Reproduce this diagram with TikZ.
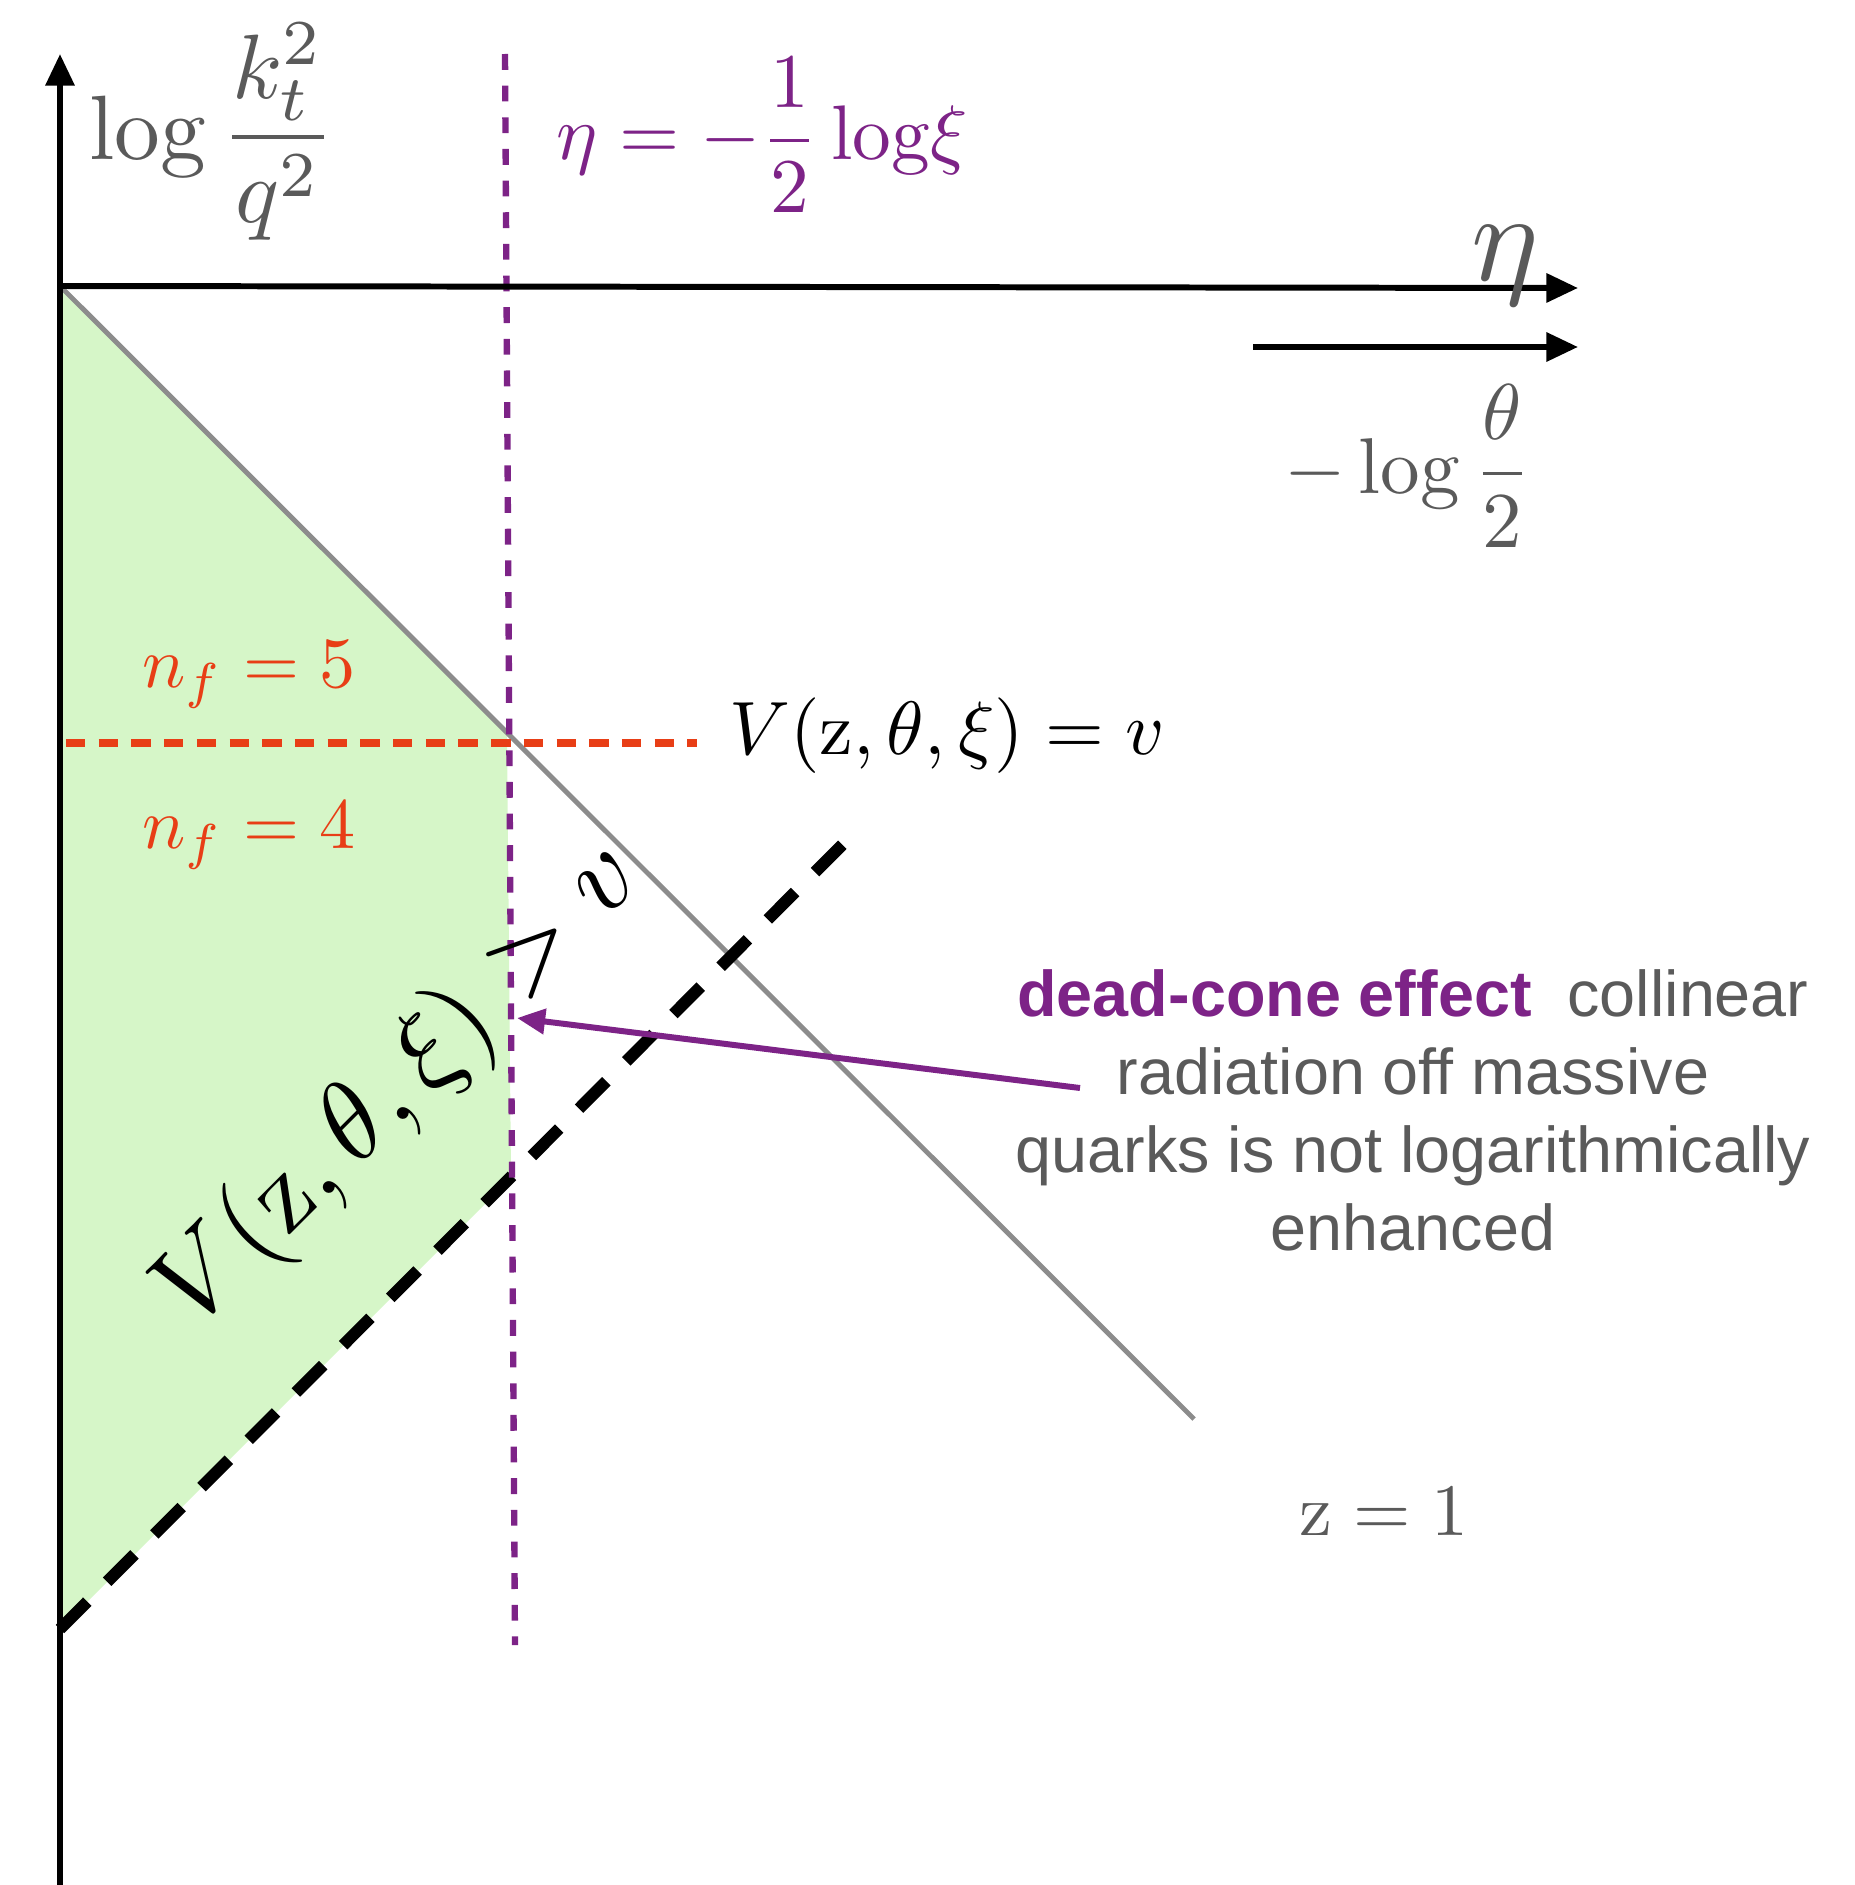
\documentclass[tikz,border=0pt]{standalone}
\usepackage{fontspec}
\setsansfont{Liberation Sans}
\usetikzlibrary{arrows.meta}
\definecolor{txtgray}{RGB}{90,90,90}
\definecolor{lngray}{RGB}{140,140,140}
\definecolor{ppl}{RGB}{125,35,135}
\definecolor{redo}{RGB}{232,62,22}
\definecolor{grn}{RGB}{214,246,200}
\tikzset{
  axisarrow/.style={line width=1.7pt, -{Triangle[length=9pt,width=8pt]}},
  zline/.style={draw=lngray, line width=1.4pt},
  cutline/.style={draw=black, line width=3.4pt, dash pattern=on 11pt off 8pt},
  etaline/.style={draw=ppl, line width=1.8pt, dash pattern=on 4.5pt off 4.5pt},
  nfline/.style={draw=redo, line width=2.2pt, dash pattern=on 5.5pt off 3.8pt},
  lbl/.style={inner sep=0pt, outer sep=0pt},
}
\begin{document}
\begin{tikzpicture}[x=0.01cm, y=-0.01cm]
\useasboundingbox (0,0) rectangle (1854,1885);
% key points
\coordinate (O) at (60,286);
\coordinate (Ytop) at (60,54);
\coordinate (Ybot) at (60,1885);
\coordinate (Xend) at (1578,288);
\coordinate (X2s) at (1253,347);
\coordinate (X2e) at (1578,347);
\coordinate (Zend) at (1194,1419);
\coordinate (Cs) at (60,1629);
\coordinate (Ce) at (851,836);
\coordinate (Ptop) at (505,54);
\coordinate (Pbot) at (515,1645);
\coordinate (GP) at (507,733);
\coordinate (DP) at (511,1178);
\coordinate (Rs) at (66,743);
\coordinate (Re) at (697,743);
\coordinate (As) at (1080,1088);
\coordinate (Ae) at (517,1018);
% green region
\fill[grn] (O) -- (GP) -- (DP) -- (Cs) -- cycle;
% lines
\draw[zline] (O) -- (Zend);
\draw[cutline] (Cs) -- (Ce);
\draw[nfline] (Rs) -- (Re);
\draw[etaline] (Ptop) -- (Pbot);
\draw[axisarrow] (Ybot) -- (Ytop);
\draw[axisarrow] (O) -- (Xend);
\draw[axisarrow] (X2s) -- (X2e);
% labels
\node[lbl, text=txtgray, scale=2.6] (ylab) at (212,132) {$\displaystyle \log\frac{k_t^2}{q^2}$};
\node[lbl, text=ppl, scale=2.2] (etalab) at (762,135) {$\displaystyle \eta = -\frac{1}{2}\log\!\xi$};
\node[lbl, text=txtgray, scale=3.6] (etaax) at (1505,266) {$\eta$};
\node[lbl, text=txtgray, scale=2.25] (thlab) at (1408,466) {$\displaystyle {-}\log\frac{\theta}{2}$};
\node[lbl, text=redo, scale=2.05] (nf5) at (249,675) {$n_f = 5$};
\node[lbl, text=redo, scale=2.05] (nf4) at (249,836) {$n_f = 4$};
\node[lbl, text=black, scale=2.15] (vlab) at (947,736) {$V(\mathrm{z},\theta,\xi) = v$};
\node[lbl, text=txtgray, scale=2.1] (zlab) at (1384,1512) {$\mathrm{z} = 1$};
\node[lbl, text=black, rotate=45, scale=3.15] (vgt) at (400,1086) {$V(\mathrm{z},\theta,\xi) > v$};
\node[lbl, text=txtgray, align=center, font=\sffamily\fontsize{18.4}{22.2}\selectfont] (note) at (1413,1110)
  {{\color{ppl}\bfseries dead-cone effect}\ \ collinear\\radiation off massive\\quarks is not logarithmically\\enhanced};
% arrow
\draw[ppl, line width=1.7pt, -{Triangle[length=8pt,width=7pt]}] (As) -- (Ae);
\end{tikzpicture}
\end{document}
